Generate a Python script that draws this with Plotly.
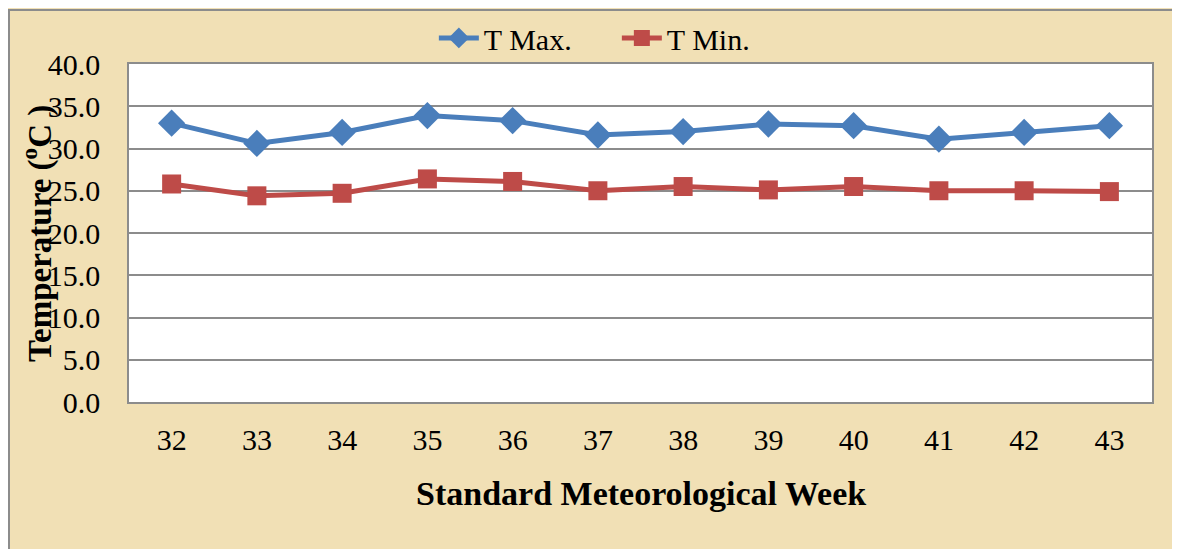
import plotly.graph_objects as go

weeks = ["32", "33", "34", "35", "36", "37", "38", "39", "40", "41", "42", "43"]
t_max = [33.0, 30.6, 31.9, 33.9, 33.3, 31.6, 32.0, 32.9, 32.7, 31.1, 31.9, 32.7]
t_min = [25.8, 24.4, 24.7, 26.4, 26.1, 25.0, 25.5, 25.1, 25.5, 25.0, 25.0, 24.9]
y_ticks = [0, 5, 10, 15, 20, 25, 30, 35, 40]

FONT = "Liberation Serif"

fig = go.Figure()
fig.add_trace(go.Scatter(
    x=weeks, y=t_max, name="T Max.", mode="lines+markers",
    line=dict(color="#4A7EBB", width=5),
    marker=dict(symbol="diamond", size=21, color="#4A7EBB"),
))
fig.add_trace(go.Scatter(
    x=weeks, y=t_min, name="T Min.", mode="lines+markers",
    line=dict(color="#BE4B48", width=5),
    marker=dict(symbol="square", size=19, color="#BE4B48"),
))

fig.update_layout(
    width=1172, height=541,
    margin=dict(l=121, r=28, t=56, b=147, autoexpand=False),
    paper_bgcolor="#F1E0B5",
    plot_bgcolor="white",
    font=dict(family=FONT, size=30, color="black"),
    showlegend=True,
    legend=dict(orientation="h", x=0.298, xanchor="left", y=1.077, yanchor="middle",
                bgcolor="rgba(0,0,0,0)", font=dict(size=30, family=FONT),
                entrywidth=128, entrywidthmode="pixels", itemwidth=40,
                tracegroupgap=0),
    xaxis=dict(
        type="category", range=[-0.5, 11.5],
        showgrid=False, showline=True, linecolor="#8C8C8C", linewidth=1.5, mirror=True,
        ticks="outside", ticklen=10, tickcolor="rgba(0,0,0,0)",
        tickfont=dict(size=30, family=FONT),
        zeroline=False,
    ),
    yaxis=dict(
        range=[0, 40], tickvals=y_ticks, ticktext=[f"{v:.1f}" for v in y_ticks],
        showgrid=True, gridcolor="#8C8C8C", gridwidth=1.5,
        showline=True, linecolor="#8C8C8C", linewidth=1.5, mirror=True,
        ticks="outside", ticklen=21, tickcolor="rgba(0,0,0,0)",
        tickfont=dict(size=30, family=FONT),
        zeroline=False,
    ),
    annotations=[
        dict(text="<b>Standard Meteorological Week</b>", xref="paper", yref="paper",
             x=0.5, y=-0.272, xanchor="center", yanchor="middle", showarrow=False,
             font=dict(size=34, family=FONT)),
        dict(text="<b>Temperature (<sup>o</sup>C )</b>", xref="paper", yref="paper",
             x=-0.09, y=0.5, xanchor="center", yanchor="middle", showarrow=False,
             textangle=-90, font=dict(size=33, family=FONT)),
    ],
    shapes=[
        dict(type="rect", xref="paper", yref="paper", x0=-0.1173, x1=1.0235,
             y0=-0.46, y1=1.1598, line=dict(color="#8C8C8C", width=2),
             fillcolor="rgba(0,0,0,0)", layer="above"),
    ],
)

fig.write_html("out.html")
